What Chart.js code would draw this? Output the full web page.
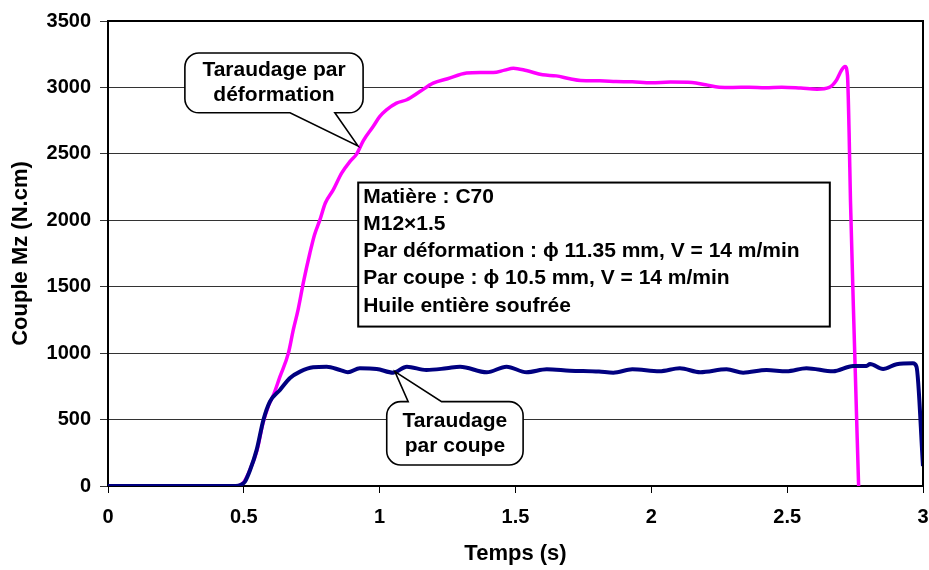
<!DOCTYPE html>
<html>
<head>
<meta charset="utf-8">
<script src="https://cdn.jsdelivr.net/npm/chart.js@4.4.1/dist/chart.umd.min.js"></script>
<style>
body { margin: 0; background: #fff; }
canvas { display: block; }
</style>
</head>
<body>
<canvas id="torqueChart" width="929" height="570"></canvas>
<script>
//data: time (s) / torque Mz (N.cm)
let tDeformation = [0, 0.3, 0.47, 0.5, 0.52, 0.55, 0.57, 0.59, 0.61, 0.633, 0.664, 0.682, 0.7, 0.72, 0.743, 0.76, 0.78, 0.8, 0.829, 0.86, 0.891, 0.915, 0.94, 0.976, 1.0, 1.025, 1.062, 1.1, 1.148, 1.197, 1.25, 1.32, 1.37, 1.418, 1.46, 1.492, 1.54, 1.6, 1.65, 1.7, 1.74, 1.81, 1.87, 1.93, 2.0, 2.07, 2.15, 2.2, 2.25, 2.3, 2.36, 2.42, 2.48, 2.55, 2.61, 2.655, 2.68, 2.7, 2.713, 2.722, 2.728, 2.733, 2.748, 2.763];
let mzDeformation = [0, 0, 0, 30, 110, 280, 470, 600, 690, 823, 1000, 1175, 1330, 1540, 1752, 1890, 2003, 2130, 2229, 2355, 2443, 2498, 2600, 2706, 2780, 2831, 2882, 2907, 2969, 3032, 3065, 3108, 3112, 3112, 3130, 3145, 3127, 3095, 3087, 3065, 3052, 3050, 3045, 3042, 3035, 3040, 3037, 3020, 3002, 3000, 3002, 2998, 3002, 2995, 2987, 3000, 3050, 3130, 3158, 3090, 2660, 2150, 1050, 0];

let tCoupe = [0, 0.3, 0.47, 0.49, 0.504, 0.523, 0.547, 0.572, 0.596, 0.633, 0.67, 0.707, 0.755, 0.805, 0.854, 0.883, 0.927, 0.989, 1.05, 1.1, 1.172, 1.246, 1.296, 1.394, 1.467, 1.541, 1.615, 1.7, 1.807, 1.86, 1.93, 2.03, 2.105, 2.18, 2.277, 2.338, 2.424, 2.498, 2.571, 2.669, 2.743, 2.792, 2.805, 2.853, 2.903, 2.963, 2.976, 3.0];
let mzCoupe = [0, 0, 0, 10, 32, 120, 270, 497, 635, 723, 813, 861, 894, 898, 873, 856, 886, 881, 853, 898, 873, 886, 898, 856, 898, 856, 878, 868, 861, 853, 878, 863, 886, 856, 878, 853, 873, 863, 886, 863, 903, 903, 918, 881, 916, 923, 898, 150];

let xTicks = [0, 0.5, 1, 1.5, 2, 2.5, 3];
let yTicks = [0, 500, 1000, 1500, 2000, 2500, 3000, 3500];

let infoLines = [
    "Matière : C70",
    "M12×1.5",
    "Par déformation : ϕ 11.35 mm, V = 14 m/min",
    "Par coupe : ϕ 10.5 mm, V = 14 m/min",
    "Huile entière soufrée",
];
let labelDeformation = ["Taraudage par", "déformation"];
let labelCoupe = ["Taraudage", "par coupe"];

//annotation boxes, placed in data units
let callouts = [{
    lines: labelDeformation,
    x0: 0.283, x1: 0.939, y0: 2809, y1: 3259,
    side: "bottom", base: [0.67, 0.835], tip: [0.92, 2560],
}, {
    lines: labelCoupe,
    x0: 1.026, x1: 1.528, y0: 158, y1: 635,
    side: "top", base: [1.105, 1.228], tip: [1.056, 861],
}];
let infoBox = { x0: 0.921, x1: 2.657, y0: 1200, y1: 2284 };

let boldFont = "'Liberation Sans', Arial, sans-serif";

function toPoints(xs, ys) {
    return xs.map((x, i) => ({ x: x, y: ys[i] }));
}

function calloutPath(ctx, l, t, r, b, rad, c, px) {
    let b0 = px(c.base[0]), b1 = px(c.base[1]);
    ctx.beginPath();
    ctx.moveTo(l + rad, t);
    if (c.side === "top") {
        ctx.lineTo(b0, t);
        ctx.lineTo(c.tipX, c.tipY);
        ctx.lineTo(b1, t);
    }
    ctx.arcTo(r, t, r, t + rad, rad);
    ctx.arcTo(r, b, r - rad, b, rad);
    if (c.side === "bottom") {
        ctx.lineTo(b1, b);
        ctx.lineTo(c.tipX, c.tipY);
        ctx.lineTo(b0, b);
    }
    ctx.arcTo(l, b, l, b - rad, rad);
    ctx.arcTo(l, t, l + rad, t, rad);
    ctx.closePath();
}

let annotationPlugin = {
    id: "annotations",
    afterDatasetsDraw(chart) {
        let ctx = chart.ctx;
        let xs = chart.scales.x;
        let ys = chart.scales.y;
        let px = v => xs.getPixelForValue(v);
        let py = v => ys.getPixelForValue(v);
        let area = chart.chartArea;

        ctx.save();
        //top and right frame
        ctx.strokeStyle = "#000";
        ctx.lineWidth = 2;
        ctx.beginPath();
        ctx.moveTo(area.left, area.top);
        ctx.lineTo(area.right, area.top);
        ctx.lineTo(area.right, area.bottom);
        ctx.stroke();

        //callouts
        callouts.forEach(c => {
            let l = px(c.x0), r = px(c.x1), t = py(c.y1), b = py(c.y0);
            c.tipX = px(c.tip[0]);
            c.tipY = py(c.tip[1]);
            calloutPath(ctx, l, t, r, b, 14, c, px);
            ctx.fillStyle = "#fff";
            ctx.fill();
            ctx.lineWidth = 1.6;
            ctx.strokeStyle = "#000";
            ctx.stroke();
            ctx.fillStyle = "#000";
            ctx.font = "bold 21px " + boldFont;
            ctx.textAlign = "center";
            ctx.textBaseline = "middle";
            let cy = (t + b) / 2;
            ctx.fillText(c.lines[0], (l + r) / 2, cy - 12.5);
            ctx.fillText(c.lines[1], (l + r) / 2, cy + 12.5);
        });

        //info box
        let l = px(infoBox.x0), r = px(infoBox.x1), t = py(infoBox.y1), b = py(infoBox.y0);
        ctx.fillStyle = "#fff";
        ctx.fillRect(l, t, r - l, b - t);
        ctx.lineWidth = 2;
        ctx.strokeRect(l, t, r - l, b - t);
        ctx.fillStyle = "#000";
        ctx.font = "bold 21px " + boldFont;
        ctx.textAlign = "left";
        ctx.textBaseline = "middle";
        infoLines.forEach((line, i) => {
            ctx.fillText(line, l + 5, t + 14.5 + i * 27.2);
        });
        ctx.restore();
    },
};

let torqueCanvas = document.getElementById("torqueChart").getContext("2d");

new Chart(torqueCanvas, {
    type: "line",
    data: {
        datasets: [{
            label: "Taraudage par coupe",
            data: toPoints(tCoupe, mzCoupe),
            borderColor: "#000080",
            borderWidth: 4,
            pointRadius: 0,
            cubicInterpolationMode: "monotone",
            fill: false,
        }, {
            label: "Taraudage par déformation",
            data: toPoints(tDeformation, mzDeformation),
            borderColor: "#ff00ff",
            borderWidth: 3.5,
            pointRadius: 0,
            cubicInterpolationMode: "monotone",
            fill: false,
        }, ],
    },
    options: {
        responsive: false,
        animation: false,
        devicePixelRatio: 1,
        layout: {
            padding: { top: 21, right: 6, left: 0, bottom: 0 },
        },
        plugins: {
            legend: { display: false },
            tooltip: { enabled: false },
        },
        scales: {
            x: {
                type: "linear",
                min: 0,
                max: 3,
                afterBuildTicks: axis => {
                    axis.ticks = xTicks.map(v => ({ value: v }));
                },
                afterFit: axis => {
                    axis.height = 84;
                    axis.paddingLeft = 0;
                    axis.paddingRight = 0;
                },
                ticks: {
                    color: "#000",
                    padding: 12,
                    maxRotation: 0,
                    callback: v => String(v),
                    font: { family: boldFont, size: 20, weight: "bold" },
                },
                grid: {
                    drawOnChartArea: false,
                    color: "#000",
                    tickLength: 7,
                },
                border: { color: "#000", width: 2 },
                title: {
                    display: true,
                    text: "Temps (s)",
                    color: "#000",
                    padding: { top: 0, bottom: 3 },
                    font: { family: boldFont, size: 22, weight: "bold" },
                },
            },
            y: {
                min: 0,
                max: 3500,
                afterBuildTicks: axis => {
                    axis.ticks = yTicks.map(v => ({ value: v }));
                },
                afterFit: axis => {
                    axis.width = 108;
                },
                ticks: {
                    color: "#000",
                    padding: 9,
                    callback: v => String(v),
                    font: { family: boldFont, size: 20, weight: "bold" },
                },
                grid: {
                    color: "#333",
                    tickLength: 8,
                },
                border: { color: "#000", width: 2 },
                title: {
                    display: true,
                    text: "Couple Mz (N.cm)",
                    color: "#000",
                    padding: { top: 8, bottom: 0 },
                    font: { family: boldFont, size: 22, weight: "bold" },
                },
            },
        },
    },
    plugins: [annotationPlugin],
});
</script>
</body>
</html>
